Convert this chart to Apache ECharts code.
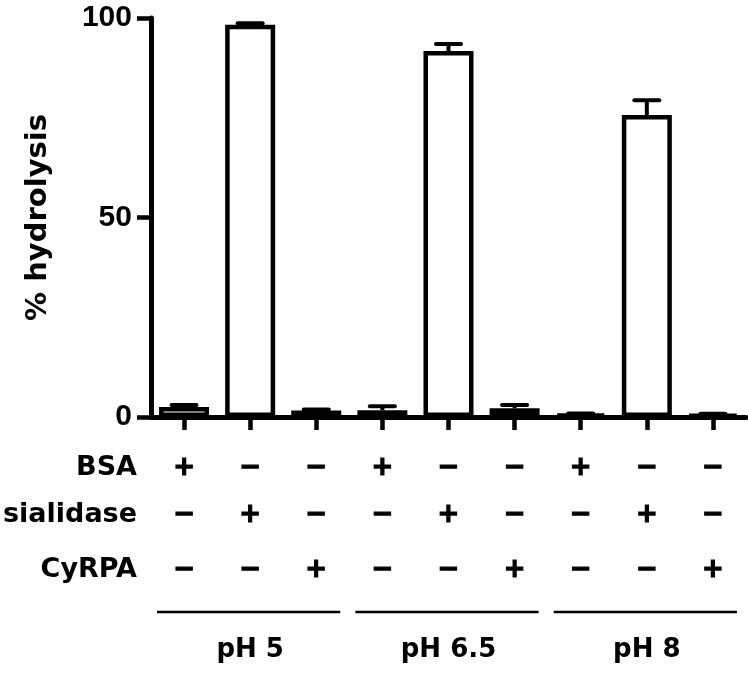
<!DOCTYPE html>
<html>
<head>
<meta charset="utf-8">
<script src="https://cdn.jsdelivr.net/npm/echarts@6/dist/echarts.min.js"></script>
<style>
html,body{margin:0;padding:0;background:#fff;}
#chart{width:748px;height:675px;}
</style>
</head>
<body>
<div id="chart"></div>
<script>
// ---- data ----
var conditions = ['pH5 BSA','pH5 sialidase','pH5 CyRPA','pH6.5 BSA','pH6.5 sialidase','pH6.5 CyRPA','pH8 BSA','pH8 sialidase','pH8 CyRPA'];
var bsaRow       = ['+','−','−','+','−','−','+','−','−'];
var sialidaseRow = ['−','+','−','−','+','−','−','+','−'];
var cyrpaRow     = ['−','−','+','−','−','+','−','−','+'];
var rowNames = ['BSA','sialidase','CyRPA'];
var groups = ['pH 5','pH 6.5','pH 8'];
var values = [2.5, 98.3, 1.6, 1.7, 91.7, 2.2, 0.7, 75.7, 0.6];
var errors = [0.5, 0.4, 0.3, 1.0, 1.8, 0.8, 0.2, 3.7, 0.2];
var yTicks = [0, 50, 100];

var WORD = 'DejaVu Sans';
var NUM = 'Liberation Sans';

var chart = echarts.init(document.getElementById('chart'), null, {renderer:'canvas'});

function rowAxis(rows, name, offset){
  return {
    type:'category', gridIndex:0, position:'bottom', offset:offset,
    data:conditions,
    axisLine:{show:false}, axisTick:{show:false}, splitLine:{show:false},
    axisLabel:{show:true, interval:0, margin:0, verticalAlign:'middle', color:'#000',
      fontFamily:WORD, fontWeight:'bold', fontSize:26,
      textBorderColor:'#000', textBorderWidth:1.2,
      formatter:function(v, i){ return rows[i]; }},
    name:name, nameLocation:'start', nameGap:14,
    nameTextStyle:{color:'#000', fontFamily:WORD, fontWeight:'bold', fontSize:27, verticalAlign:'middle', align:'right'}
  };
}

var option = {
  animation:false,
  backgroundColor:'#fff',
  grid:{left:150, right:2, top:18, bottom:258, containLabel:false},
  xAxis:[
    {
      type:'category', gridIndex:0, data:conditions,
      axisLine:{show:true, lineStyle:{color:'#000', width:5}},
      axisTick:{show:true, interval:0, alignWithLabel:true, length:13, lineStyle:{color:'#000', width:4.5}},
      axisLabel:{show:false, interval:0}, splitLine:{show:false}
    },
    rowAxis(bsaRow, rowNames[0], 51),
    rowAxis(sialidaseRow, rowNames[1], 98),
    rowAxis(cyrpaRow, rowNames[2], 153),
    {
      type:'category', gridIndex:0, position:'bottom', offset:233, data:groups,
      axisLine:{show:false}, axisTick:{show:false}, splitLine:{show:false},
      axisLabel:{show:true, interval:0, margin:0, verticalAlign:'middle', color:'#000',
        fontFamily:WORD, fontWeight:'bold', fontSize:26}
    }
  ],
  yAxis:{
    type:'value', min:yTicks[0], max:yTicks[yTicks.length-1], interval:50,
    axisLine:{show:true, lineStyle:{color:'#000', width:5}},
    axisTick:{show:true, length:14, lineStyle:{color:'#000', width:4.5}},
    splitLine:{show:false},
    axisLabel:{color:'#000', fontFamily:NUM, fontWeight:'bold', fontSize:30, margin:19},
    name:'% hydrolysis', nameLocation:'middle', nameRotate:90, nameGap:98,
    nameTextStyle:{color:'#000', fontFamily:WORD, fontWeight:'bold', fontSize:29}
  },
  series:[
    {
      type:'bar', xAxisIndex:0, yAxisIndex:0, data:values, barWidth:50,
      itemStyle:{color:'#fff', borderColor:'#000', borderWidth:4.5},
      z:2
    },
    {
      type:'custom', xAxisIndex:0, yAxisIndex:0,
      data:values.map(function(v,i){ return [i, v, v + errors[i]]; }),
      z:3,
      renderItem:function(params, api){
        var p0 = api.coord([api.value(0), api.value(1)]);
        var p1 = api.coord([api.value(0), api.value(2)]);
        var hw = 12.5;
        return {
          type:'group',
          children:[
            {type:'line', shape:{x1:p0[0], y1:p0[1], x2:p1[0], y2:p1[1]}, style:{stroke:'#000', lineWidth:4}},
            {type:'line', shape:{x1:p1[0]-hw, y1:p1[1], x2:p1[0]+hw, y2:p1[1]}, style:{stroke:'#000', lineWidth:4, lineCap:'round'}}
          ]
        };
      }
    }
  ]
};
chart.setOption(option);

// group underlines derived from the category scale
var lines = [];
var y0 = chart.convertToPixel({yAxisIndex:0}, 0);
for (var g = 0; g < groups.length; g++) {
  var xa = chart.convertToPixel({xAxisIndex:0}, conditions[g*3]);
  var xb = chart.convertToPixel({xAxisIndex:0}, conditions[g*3+2]);
  lines.push({
    type:'line', silent:true,
    shape:{x1:xa-27, y1:y0+195, x2:xb+24, y2:y0+195},
    style:{stroke:'#000', lineWidth:2.5}
  });
}
chart.setOption({graphic:lines});
</script>
</body>
</html>
